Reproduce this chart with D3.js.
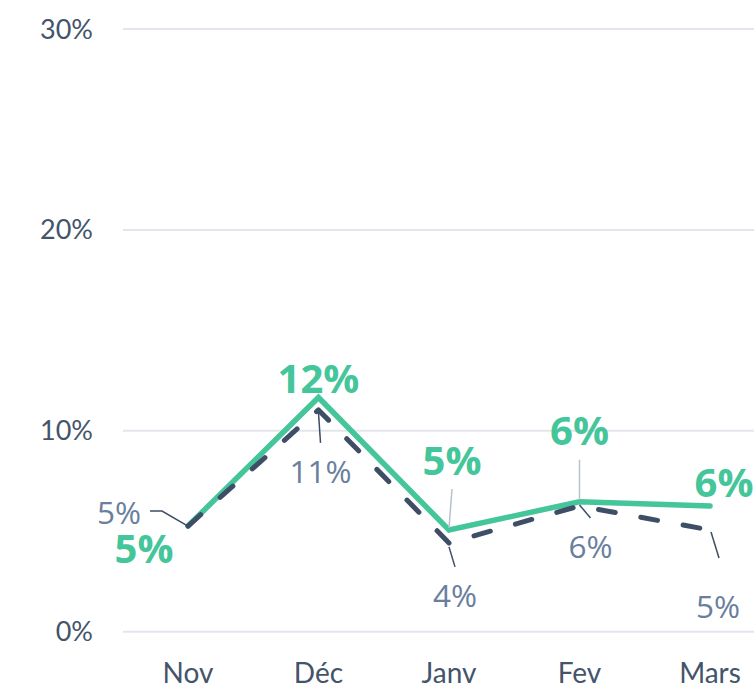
<!DOCTYPE html>
<html>
<head>
<meta charset="utf-8">
<script src="https://cdn.jsdelivr.net/npm/d3@7"></script>
<style>
  html, body { margin: 0; padding: 0; background: #ffffff; }
  svg { display: block; }
</style>
</head>
<body>
<svg id="chart" width="754" height="694"></svg>
<script>
// Monthly rates, two series
const months = ["Nov", "Déc", "Janv", "Fev", "Mars"];
const seriesMain = [0.0526, 0.1166, 0.0506, 0.0647, 0.0626];
const seriesRef = [0.0526, 0.1104, 0.0442, 0.0626, 0.0506];
const yTicks = [0, 0.10, 0.20, 0.30];

// Label layout (offsets from each point): [dx, dy] for text, leader polyline points
const mainLabelOffsets = [[-44, 37], [0, -4], [3, -55], [0, -57], [14, -9]];
const mainLeaders = [null, null, [[3, -41], [0, -2]], [[0, -42], [0, -2]], null];
const refLabelOffsets = [[-69, -2], [2, 73], [6, 64], [11, 52], [8, 88]];
const refLeaders = [
  [[-38, -15], [-26, -15], [0, 0]],
  [[2, 33], [0, 3]],
  [[0, 4], [6, 24]],
  [[0, -1], [11, 12]],
  [[1, 2], [9, 28]]
];

const green = "#44c59a";
const dark = "#3e4e66";
const slate = "#6a7f9d";
const axisText = "#44546a";
const grid = "#e2e6ec";

const svg = d3.select("#chart");

const x = d3.scalePoint().domain(months).range([188, 710]);
const y = d3.scaleLinear().domain([0, 0.30]).range([631.7, 29]);
const pct = d3.format(".0%");

// Gridlines and y labels
const gGrid = svg.append("g");
gGrid.selectAll("line").data(yTicks).join("line")
  .attr("x1", 123).attr("x2", 754)
  .attr("y1", d => y(d)).attr("y2", d => y(d))
  .attr("stroke", grid).attr("stroke-width", 2);
gGrid.selectAll("text").data(yTicks).join("text")
  .attr("x", 93).attr("y", d => y(d) + 9.5)
  .attr("text-anchor", "end")
  .attr("font-family", "Lato, 'Open Sans', sans-serif")
  .attr("font-size", 27)
  .attr("fill", axisText)
  .text(d => pct(d));

// x labels
svg.append("g").selectAll("text").data(months).join("text")
  .attr("x", d => x(d)).attr("y", 683)
  .attr("text-anchor", "middle")
  .attr("font-family", "Lato, 'Open Sans', sans-serif")
  .attr("font-size", 28)
  .attr("fill", axisText)
  .text(d => d);

const line = d3.line().x((d, i) => x(months[i])).y(d => y(d));

// Main series (solid)
svg.append("path")
  .attr("d", line(seriesMain))
  .attr("fill", "none")
  .attr("stroke", green)
  .attr("stroke-width", 5.5)
  .attr("stroke-linejoin", "miter")
  .attr("stroke-linecap", "round");

// Reference series (dashed)
svg.append("path")
  .attr("d", line(seriesRef))
  .attr("fill", "none")
  .attr("stroke", dark)
  .attr("stroke-width", 5)
  .attr("stroke-dasharray", "17,26")
  .attr("stroke-linecap", "round")
  .attr("stroke-linejoin", "round");

const leaderLine = d3.line();

// Leaders for main labels
seriesMain.forEach((v, i) => {
  const pts = mainLeaders[i];
  if (!pts) return;
  const px = x(months[i]), py = y(v);
  svg.append("path")
    .attr("d", leaderLine(pts.map(p => [px + p[0], py + p[1]])))
    .attr("fill", "none").attr("stroke", "#b8c1cd").attr("stroke-width", 1.5);
});

// Leaders for reference labels
seriesRef.forEach((v, i) => {
  const pts = refLeaders[i];
  if (!pts) return;
  const px = x(months[i]), py = y(v);
  svg.append("path")
    .attr("d", leaderLine(pts.map(p => [px + p[0], py + p[1]])))
    .attr("fill", "none").attr("stroke", dark).attr("stroke-width", 1.5);
});

// Reference labels
svg.append("g").selectAll("text").data(seriesRef).join("text")
  .attr("x", (d, i) => x(months[i]) + refLabelOffsets[i][0])
  .attr("y", (d, i) => y(d) + refLabelOffsets[i][1])
  .attr("text-anchor", "middle")
  .attr("font-family", "'Open Sans', sans-serif")
  .attr("font-size", 31.5)
  .attr("fill", slate)
  .text(d => pct(d));

// Main labels
svg.append("g").selectAll("text").data(seriesMain).join("text")
  .attr("x", (d, i) => x(months[i]) + mainLabelOffsets[i][0])
  .attr("y", (d, i) => y(d) + mainLabelOffsets[i][1])
  .attr("text-anchor", "middle")
  .attr("font-family", "'Open Sans', sans-serif")
  .attr("font-weight", "bold")
  .attr("font-size", 40)
  .attr("fill", green)
  .text(d => pct(d));
</script>
</body>
</html>
